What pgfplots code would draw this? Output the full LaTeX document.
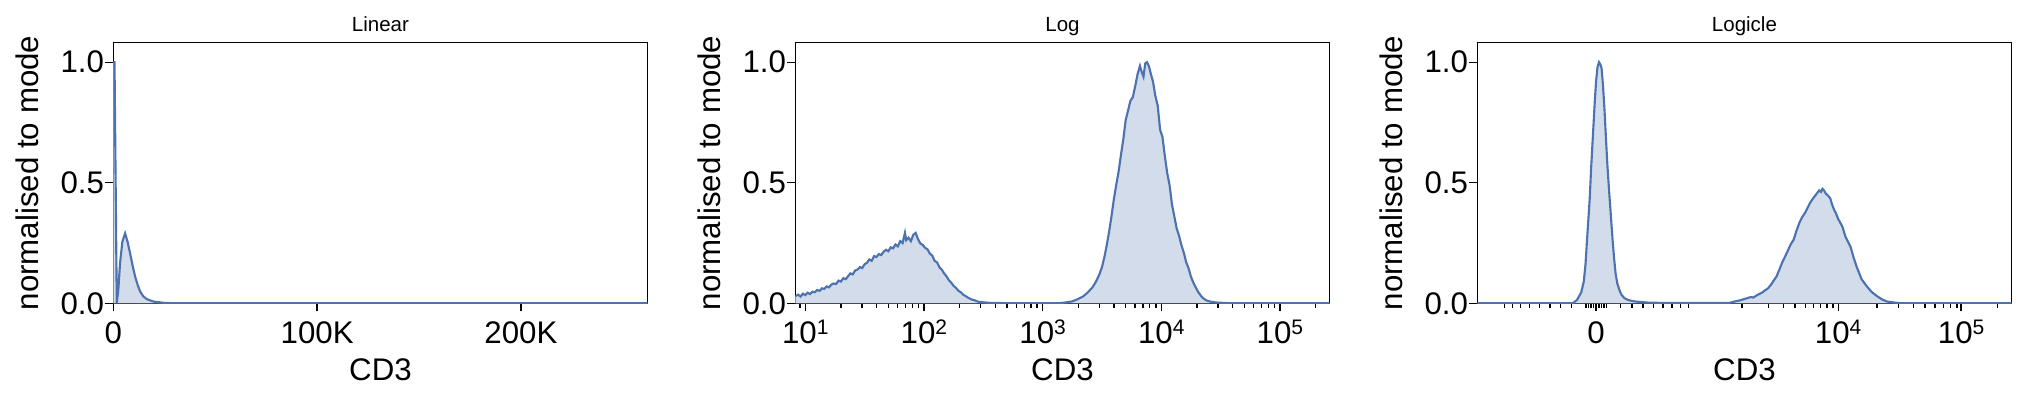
\documentclass[border=0pt]{standalone}
\usepackage{fontspec}
\setmainfont{Liberation Sans}
\usepackage{pgfplots}
\pgfplotsset{compat=1.18}
\usepackage{pgfplotstable}
\definecolor{lc}{RGB}{76,114,176}
\definecolor{fc}{RGB}{210,220,235}
\newcommand\lab{\fontsize{12.5}{15}\selectfont}
\newcommand\ttl{\fontsize{8.2}{9.8}\selectfont}
\newcommand\tp[1]{10\raisebox{3.5pt}{\fontsize{8.4}{9}\selectfont #1}}

\pgfplotstableread{
x y
0 1.0
600 1.0
1700 0
2500 0.06
3300 0.166
4450 0.256
5800 0.29
7000 0.255
8250 0.207
9500 0.155
10700 0.111
12000 0.075
13200 0.048
14800 0.028
16500 0.017
19800 0.007
24700 0.002
30000 0
262144 0
}\linear

\pgfplotstableread{
x y
0.916 0.030
0.94 0.036
0.96 0.028
0.98 0.040
1.00 0.034
1.02 0.044
1.04 0.038
1.06 0.048
1.08 0.046
1.10 0.055
1.12 0.052
1.14 0.062
1.16 0.060
1.18 0.070
1.20 0.066
1.22 0.078
1.24 0.082
1.26 0.080
1.28 0.094
1.30 0.090
1.32 0.104
1.34 0.100
1.36 0.112
1.38 0.124
1.40 0.120
1.42 0.136
1.44 0.140
1.46 0.150
1.48 0.146
1.50 0.162
1.52 0.168
1.54 0.182
1.56 0.176
1.58 0.196
1.60 0.192
1.62 0.204
1.64 0.200
1.66 0.214
1.68 0.222
1.70 0.216
1.72 0.232
1.74 0.228
1.76 0.244
1.78 0.236
1.80 0.258
1.82 0.250
1.84 0.292
1.85 0.262
1.87 0.272
1.89 0.258
1.91 0.284
1.93 0.292
1.95 0.266
1.97 0.248
1.99 0.242
2.01 0.230
2.03 0.224
2.05 0.206
2.07 0.198
2.09 0.176
2.11 0.170
2.13 0.150
2.15 0.140
2.17 0.124
2.19 0.112
2.21 0.096
2.23 0.086
2.25 0.072
2.27 0.064
2.29 0.052
2.31 0.046
2.33 0.036
2.35 0.030
2.37 0.024
2.40 0.016
2.43 0.012
2.46 0.006
2.50 0.004
2.55 0.002
2.65 0.001
2.80 0
3.00 0
3.15 0.001
3.20 0.004
3.25 0.008
3.30 0.018
3.34 0.028
3.38 0.045
3.42 0.066
3.45 0.090
3.48 0.122
3.50 0.150
3.52 0.190
3.54 0.240
3.56 0.296
3.58 0.360
3.60 0.430
3.62 0.490
3.64 0.545
3.66 0.615
3.68 0.680
3.70 0.760
3.72 0.800
3.74 0.840
3.76 0.855
3.78 0.900
3.80 0.950
3.82 0.985
3.835 0.960
3.85 0.940
3.865 0.995
3.88 1.000
3.895 0.985
3.91 0.955
3.93 0.920
3.95 0.860
3.97 0.820
3.99 0.720
4.01 0.690
4.03 0.610
4.05 0.540
4.07 0.490
4.09 0.410
4.11 0.360
4.13 0.310
4.15 0.280
4.17 0.240
4.19 0.210
4.21 0.170
4.23 0.145
4.25 0.110
4.27 0.086
4.29 0.066
4.31 0.048
4.33 0.034
4.35 0.022
4.38 0.012
4.42 0.006
4.47 0.003
4.55 0.001
4.70 0
5.4185 0
}\logdata

\pgfplotstableread{
x y
1.064 0
1.84 0
1.875 0.014
1.909 0.045
1.93 0.09
1.944 0.16
1.96 0.29
1.978 0.43
1.99 0.56
2.006 0.71
2.02 0.84
2.030 0.92
2.042 0.98
2.054 1.0
2.066 0.99
2.075 0.975
2.087 0.90
2.099 0.80
2.111 0.68
2.123 0.567
2.137 0.46
2.151 0.36
2.165 0.26
2.178 0.18
2.19 0.12
2.203 0.083
2.22 0.055
2.237 0.035
2.26 0.022
2.289 0.014
2.33 0.009
2.358 0.007
2.45 0.003
2.531 0.002
2.80 0.001
3.05 0.001
3.118 0.002
3.153 0.007
3.20 0.012
3.256 0.021
3.29 0.026
3.31 0.024
3.343 0.035
3.38 0.044
3.40 0.052
3.429 0.062
3.46 0.082
3.48 0.098
3.498 0.111
3.52 0.138
3.545 0.170
3.568 0.194
3.59 0.218
3.615 0.246
3.637 0.263
3.66 0.300
3.685 0.335
3.71 0.360
3.73 0.375
3.755 0.400
3.775 0.420
3.80 0.438
3.827 0.456
3.845 0.468
3.86 0.462
3.872 0.475
3.885 0.468
3.899 0.455
3.915 0.448
3.935 0.436
3.95 0.410
3.965 0.390
3.982 0.373
4.00 0.350
4.034 0.318
4.06 0.275
4.10 0.235
4.125 0.190
4.15 0.152
4.19 0.100
4.235 0.069
4.27 0.048
4.315 0.030
4.36 0.015
4.40 0.007
4.46 0.003
4.50 0.001
4.60 0
5.411 0
}\logicle

\pgfplotsset{
  hist/.style={
    scale only axis, width=213.72pt, height=104.24pt, anchor=south west,
    ymin=0, ymax=1.081, ytick={0,0.5,1}, yticklabels={0.0,0.5,1.0},
    tick align=outside, xtick pos=bottom, ytick pos=left,
    major tick length=3.2pt, minor tick length=2pt,
    every tick/.style={black, line width=0.55pt},
    axis line style={line width=0.55pt, black},
    ticklabel style={font=\lab},
    xticklabel style={anchor=base, yshift=-12.8pt},
    yticklabel style={xshift=3pt},
    xlabel={CD3}, ylabel={normalised to mode},
    label style={font=\lab},
    xlabel style={at={(axis description cs:0.5,-0.298)}, anchor=base},
    ylabel style={at={(axis description cs:-0.1404,0.5)}, anchor=base},
    every axis title/.style={font=\ttl, at={(axis description cs:0.5,1)}, anchor=base, yshift=4.4pt},
    scaled x ticks=false,
  },
  fillp/.style={fill=fc, draw=none, forget plot},
  linep/.style={draw=lc, line width=0.85pt, mark=none},
}

\begin{document}
\begin{tikzpicture}
\useasboundingbox (0,0) rectangle (810.4pt,162.8pt);

\begin{axis}[hist, at={(45.32pt,41.48pt)}, title={Linear},
  xmin=0, xmax=262144, xtick={0,100000,200000}, xticklabels={0,100K,200K}]
\addplot[fillp] table {\linear} \closedcycle;
\addplot[linep] table {\linear};
\end{axis}

\begin{axis}[hist, at={(318.12pt,41.48pt)}, title={Log},
  xmin=0.916, xmax=5.4185, xtick={1,2,3,4,5},
  xticklabels={\tp{1},\tp{2},\tp{3},\tp{4},\tp{5}},
  minor xtick={0.954,1.301,1.477,1.602,1.699,1.778,1.845,1.903,1.954,
    2.301,2.477,2.602,2.699,2.778,2.845,2.903,2.954,
    3.301,3.477,3.602,3.699,3.778,3.845,3.903,3.954,
    4.301,4.477,4.602,4.699,4.778,4.845,4.903,4.954,5.301}]
\addplot[fillp] table {\logdata} \closedcycle;
\addplot[linep] table {\logdata};
\end{axis}

\begin{axis}[hist, at={(590.92pt,41.48pt)}, title={Logicle},
  xmin=1.064, xmax=5.411, xtick={2.030,4,5},
  xticklabels={0,\tp{4},\tp{5}},
  minor xtick={1.285,1.352,1.415,1.490,1.572,1.654,1.740,1.829,
    1.947,1.967,1.988,2.008,2.053,2.073,2.094,2.114,
    2.228,2.323,2.412,2.498,2.575,2.648,2.715,2.783,
    3.217,3.433,3.555,3.650,3.732,3.799,3.854,3.908,3.957,
    4.315,4.490,4.612,4.707,4.789,4.856,4.916,4.965,5.295}]
\addplot[fillp] table {\logicle} \closedcycle;
\addplot[linep] table {\logicle};
\end{axis}
\end{tikzpicture}
\end{document}
